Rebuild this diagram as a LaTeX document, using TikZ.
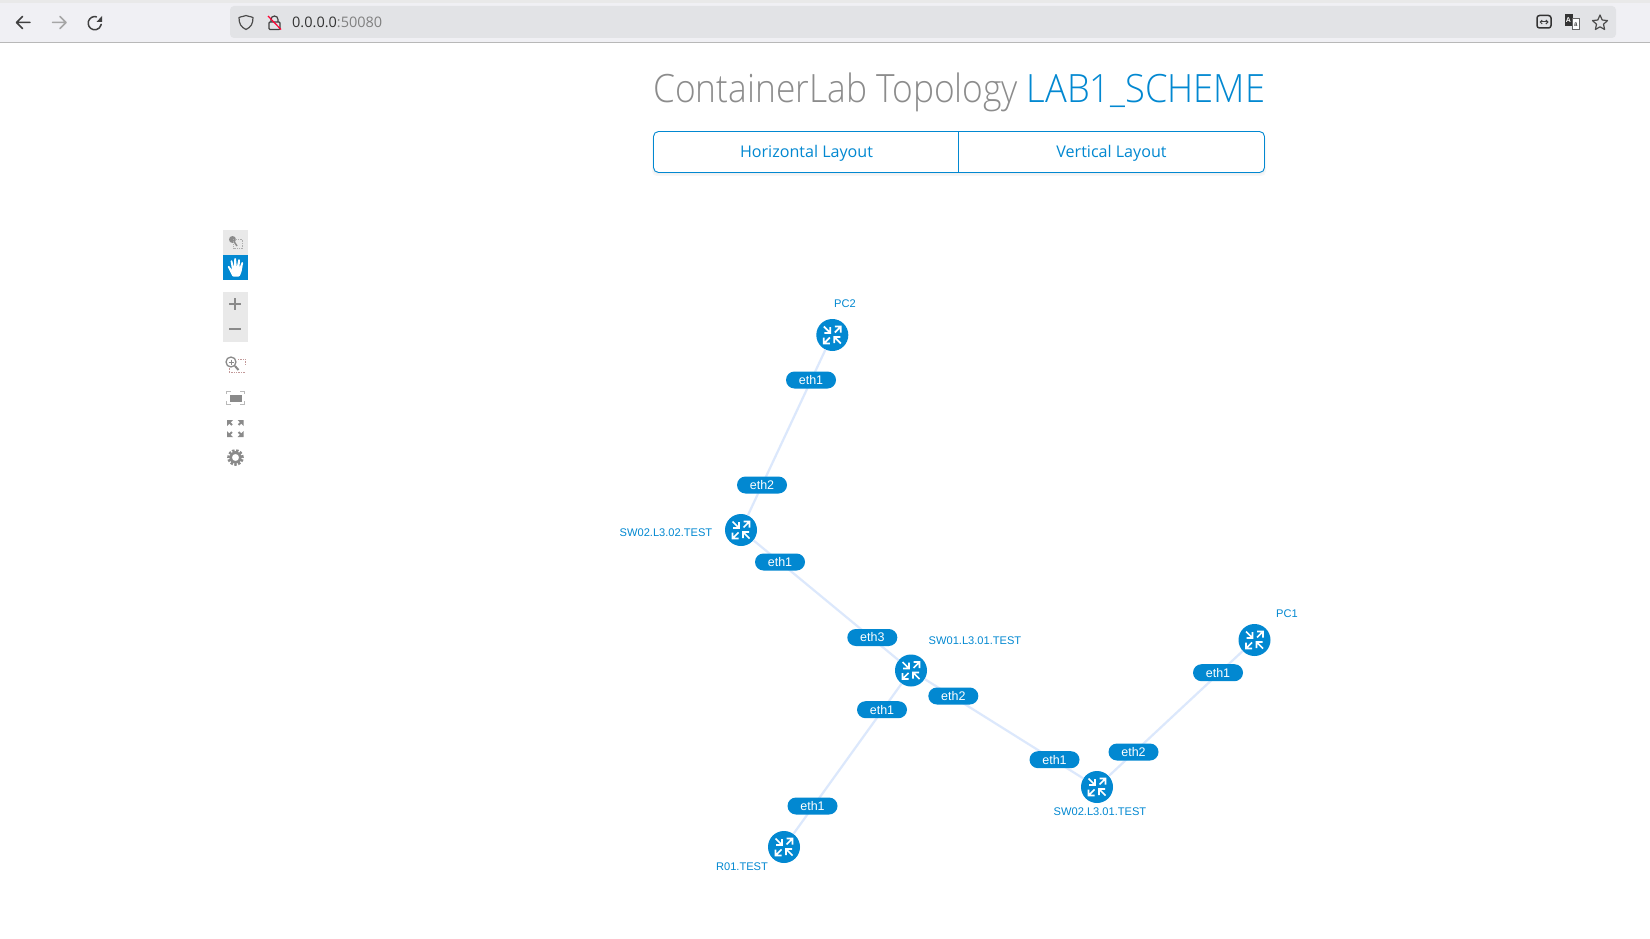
\documentclass[tikz,border=0pt]{standalone}
\usepackage{fontspec}
\setmainfont{Open Sans}
\newfontfamily\lightfont{Open Sans Light}[FakeStretch=0.906]
\newfontfamily\lightfontb{Open Sans Light}[FakeStretch=0.93]
\newfontfamily\labelfont{Liberation Sans}
\usetikzlibrary{arrows.meta}
\definecolor{nxblue}{HTML}{0288D1}
\definecolor{linkblue}{HTML}{DCE8FC}
\definecolor{chrome}{HTML}{F0F0F4}
\definecolor{urlbar}{HTML}{E2E3E6}
\definecolor{toolgrey}{HTML}{8A8A8A}
\definecolor{tiles}{HTML}{E9E9E9}
\tikzset{
  x=1pt,y=-1pt,
  routerdisc/.style={circle,fill=nxblue,minimum size=32pt,inner sep=0pt},
  ifpill/.style={rounded corners=8.5pt,fill=nxblue,text=white,minimum width=50pt,minimum height=17pt,inner sep=0pt,font=\labelfont\fontsize{12.5}{13}\selectfont},
  hostlabel/.style={text=nxblue,inner sep=0pt,font=\labelfont\fontsize{11.1}{12}\selectfont},
  linkline/.style={draw=linkblue,line width=2.2pt},
  iconline/.style={draw=#1,line width=1.5pt,line cap=round,line join=round},
  iconline/.default={black!75},
  routericon/.pic={
    \draw[white,line width=1.7pt,line join=miter]
      (-8.5,-8.5) -- (-2.5,-2.5) (-2,-8) -- (-2,-2) -- (-8,-2)
      (8.5,8.5) -- (2.5,2.5) (2,8) -- (2,2) -- (8,2)
      (2.5,-2.5) -- (8.5,-8.5) (2.5,-8.5) -- (8.5,-8.5) -- (8.5,-2.5)
      (-2.5,2.5) -- (-8.5,8.5) (-2.5,8.5) -- (-8.5,8.5) -- (-8.5,2.5);
  },
  outarrow/.pic={
    \draw[toolgrey,line width=1.8pt] (0,0) -- (4,4);
    \fill[toolgrey] (-1,-1) -- (5,-1) -- (-1,5) -- cycle;
  },
}
\begin{document}
\begin{tikzpicture}
\useasboundingbox (0,0) rectangle (1650,939);
\fill[white] (0,0) rectangle (1650,939);
% browser chrome
\fill[tiles] (0,0) rectangle (1650,6);
\fill[chrome] (0,3) rectangle (1650,42);
\draw[black!28,line width=1pt] (0,42.5) -- (1650,42.5);
\fill[urlbar,rounded corners=4pt] (230,6) rectangle (1616,38);
% back, forward, reload
\draw[iconline] (30,22.5) -- (16.5,22.5) (22.5,16.5) -- (16.5,22.5) -- (22.5,28.5);
\draw[iconline=black!35] (66,22.5) -- (52.5,22.5) (60,16.5) -- (66,22.5) -- (60,28.5);
\draw[iconline] (96.5,16.8) arc[start angle=75,end angle=350,radius=6.6pt];
\fill[black!75] (102,16) -- (102,22) -- (96.5,22) -- cycle;
% shield, lock
\draw[line width=1.2pt,black!70,line join=round] (246,15.5) .. controls (250,17) and (252,16.5) .. (253,17.5) .. controls (253,24) and (251,27) .. (246,29.5) .. controls (241,27) and (239,24) .. (239,17.5) .. controls (240,16.5) and (242,17) .. (246,15.5) -- cycle;
\draw[line width=1.2pt,black!75,rounded corners=1pt] (269,22) rectangle (280,29.5);
\draw[line width=1.2pt,black!75] (271,22) -- (271,19.5) arc[start angle=180,end angle=0,radius=3.5pt] -- (278,22);
\draw[line width=1.2pt,red!80!magenta] (268,16) -- (281,29.5);
\node[anchor=base west,inner sep=0pt,font=\fontsize{14.5}{15}\selectfont] (urltext) at (292,28) {\textcolor{black!80}{0.0.0.0}\textcolor{black!50}{:50080}};
% right icons
\draw[line width=1.5pt,black!80,rounded corners=2.5pt] (1537,15.5) rectangle (1551,28);
\draw[line width=1pt,black!75,{Straight Barb[length=2pt]}-{Straight Barb[length=2pt]}] (1539.5,22) -- (1548.5,22);
\fill[black!80] (1564.5,14.5) rectangle (1573,26);
\draw[line width=1pt,black!60,fill=white] (1572,19) rectangle (1579.5,29.5);
\node[inner sep=0pt,text=white,font=\labelfont\bfseries\fontsize{7}{7}\selectfont] (translateA) at (1568.5,20) {A};
\node[inner sep=0pt,text=black!70,font=\labelfont\bfseries\fontsize{6}{6}\selectfont] (translateB) at (1575.8,24.5) {ā};
\draw[line width=1.2pt,black!70,line join=round] (1600,15) -- (1602.2,20) -- (1607.5,20.6) -- (1603.5,24.2) -- (1604.6,29.5) -- (1600,26.8) -- (1595.4,29.5) -- (1596.5,24.2) -- (1592.5,20.6) -- (1597.8,20) -- cycle;
% title
\node[anchor=base west,inner sep=0pt,text=black!45,font=\lightfont\fontsize{39}{40}\selectfont] (titleA) at (653,102.5) {ContainerLab Topology};
\node[anchor=base east,inner sep=0pt,text=nxblue,font=\lightfontb\fontsize{39}{40}\selectfont] (titleB) at (1265.5,102.5) {LAB1\_SCHEME};
% buttons
\fill[black!3,rounded corners=5pt] (652,134) rectangle (1266,176);
\fill[black!6,rounded corners=5pt] (653,134) rectangle (1265,174.5);
\draw[nxblue,line width=.9pt,fill=white,rounded corners=5pt] (653.5,131.5) rectangle (1264.5,172.5);
\draw[nxblue,line width=.9pt] (958.5,131.5) -- (958.5,172.5);
\node[text=nxblue,inner sep=0pt,font=\fontsize{16.1}{17}\selectfont] (horiz) at (806.5,153.5) {Horizontal Layout};
\node[text=nxblue,inner sep=0pt,font=\fontsize{16.1}{17}\selectfont] (vert) at (1111.5,153.5) {Vertical Layout};
% left tool column
\fill[tiles] (223,230) rectangle (248,255);
\fill[nxblue] (223,255) rectangle (248,280);
\fill[tiles] (223,292) rectangle (248,342);
% select icon
\fill[toolgrey] (232.5,239.5) circle[radius=3.5pt];
\draw[toolgrey,line width=1.5pt] (233,240) -- (237,246);
\draw[toolgrey!70,densely dotted,line width=.7pt] (233,239) rectangle (242.5,248.5);
% hand icon
\fill[white,rounded corners=.8pt] (227.5,266.5) -- (228.8,265.5) -- (232,270) -- (230.5,260.5) -- (232,260) -- (234,267) -- (234.3,258) -- (236,258) -- (236.8,267) -- (238.4,259) -- (240,259.5) -- (239.5,268) -- (241.8,261.8) -- (243.2,262.4) -- (241.5,272) -- (239.5,276.5) -- (232.5,276.5) -- (230.5,272.5) -- cycle;
% zoom
\draw[toolgrey,line width=1.6pt] (229,304) -- (241,304) (235,298) -- (235,310);
\draw[toolgrey,line width=1.6pt] (229,329) -- (241,329);
% zoom selection
\draw[toolgrey,line width=1.3pt] (231,362) circle[radius=5pt];
\draw[toolgrey,line width=2pt] (235,366) -- (238.5,370);
\draw[toolgrey,line width=.9pt] (228.5,362) -- (233.5,362) (231,359.5) -- (231,364.5);
\draw[red!40!black!40,densely dotted,line width=.7pt] (238,359) -- (245,359) -- (245,365.5) (245,372.5) -- (229,372.5) -- (229,368);
% fit
\fill[toolgrey] (229.5,395) rectangle (241.5,402);
\draw[toolgrey!60,line width=1pt] (226,394) -- (226,391) -- (231,391) (240,391) -- (244.5,391) -- (244.5,394) (244.5,401) -- (244.5,404.5) -- (240,404.5) (231,404.5) -- (226,404.5) -- (226,401);
% fullscreen
\pic at (228,421) {outarrow};
\pic[xscale=-1] at (242.5,421) {outarrow};
\pic[yscale=-1] at (228,436) {outarrow};
\pic[xscale=-1,yscale=-1] at (242.5,436) {outarrow};
% gear
\draw[toolgrey,line width=2.6pt,dash pattern=on 2.4pt off 1.55pt] (235.5,457.5) circle[radius=7pt];
\draw[toolgrey,line width=2.6pt] (235.5,457.5) circle[radius=5pt];
% routers
\node[routerdisc] (pc2) at (832.3,335) {};
\node[routerdisc] (swb) at (741,530) {};
\node[routerdisc] (swa) at (911,670.5) {};
\node[routerdisc] (pc1) at (1254.5,640) {};
\node[routerdisc] (swc) at (1097,787) {};
\node[routerdisc] (r01) at (784,847) {};
% links
\draw[linkline] (pc2) -- (swb);
\draw[linkline] (swb) -- (swa);
\draw[linkline] (swa) -- (r01);
\draw[linkline] (swa) -- (swc);
\draw[linkline] (swc) -- (pc1);
\pic at (pc2) {routericon};
\pic at (swb) {routericon};
\pic at (swa) {routericon};
\pic at (pc1) {routericon};
\pic at (swc) {routericon};
\pic at (r01) {routericon};
% interface pills
\node[ifpill] (p1) at (811,380) {eth1};
\node[ifpill] (p2) at (762,485) {eth2};
\node[ifpill] (p3) at (780,562) {eth1};
\node[ifpill] (p4) at (872.3,637.5) {eth3};
\node[ifpill] (p5) at (953.3,696) {eth2};
\node[ifpill] (p6) at (882,709.7) {eth1};
\node[ifpill] (p7) at (812.5,806) {eth1};
\node[ifpill] (p8) at (1054.5,759.7) {eth1};
\node[ifpill] (p9) at (1133.5,752) {eth2};
\node[ifpill] (p10) at (1218,672.7) {eth1};
% host labels
\node[hostlabel] (l1) at (845,303.5) {PC2};
\node[hostlabel] (l2) at (666,533) {SW02.L3.02.TEST};
\node[hostlabel] (l3) at (975,641) {SW01.L3.01.TEST};
\node[hostlabel] (l4) at (1287,614) {PC1};
\node[hostlabel] (l5) at (1100,812) {SW02.L3.01.TEST};
\node[hostlabel] (l6) at (742,867) {R01.TEST};
\end{tikzpicture}
\end{document}
